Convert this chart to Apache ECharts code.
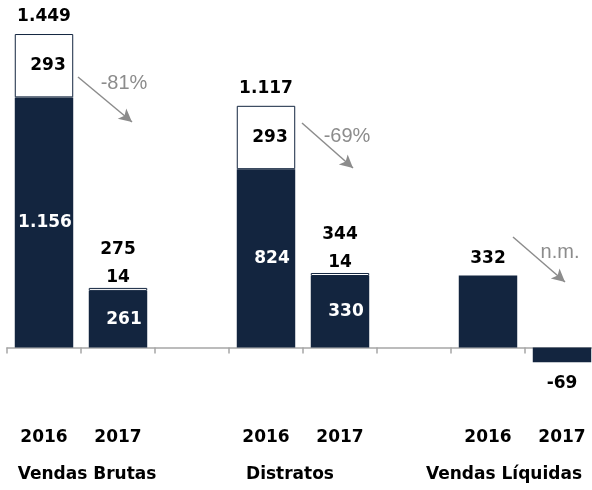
<!DOCTYPE html>
<html>
<head>
<meta charset="utf-8">
<script src="https://cdn.jsdelivr.net/npm/echarts@6/dist/echarts.min.js"></script>
<style>
  html, body { margin: 0; padding: 0; background: #fff; }
  #chart { width: 592px; height: 490px; }
</style>
</head>
<body>
<div id="chart"></div>
<script>
// dados
var years = ['2016', '2017', '', '2016', '2017', '', '2016', '2017'];
var groups = ['Vendas Brutas', 'Distratos', 'Vendas Líquidas'];
var baseValues = [1156, 261, null, 824, 330, null, 332, -69];
var topValues = [293, 14, null, 293, 14, null, null, null];
var totals = [1449, 275, null, 1117, 344, null, null, null];
var changes = ['-81%', '-69%', 'n.m.'];

var navy = '#13253f';
var grey = '#8c8c8c';
var font = 'DejaVu Sans';
var fsize = 17;

function fmt(n) {
    var s = String(Math.abs(n)).replace(/\B(?=(\d{3})+(?!\d))/g, '.');
    return (n < 0 ? '-' : '') + s;
}

var baseData = baseValues.map(function (v, i) {
    if (v == null) return '-';
    var label;
    if (v < 0) {
        label = { position: 'bottom', distance: 13, color: '#000' };
    } else if (topValues[i] == null) {
        label = { position: 'top', distance: 9, color: '#000' };
    } else {
        label = { position: 'inside', color: '#fff', offset: [v > 999 ? 1 : 6, 0] };
    }
    return { value: v, label: label };
});

var topData = topValues.map(function (v) {
    if (v == null) return '-';
    if (v < 50) return { value: v, label: { position: 'top', distance: 2, color: '#000' } };
    return { value: v, label: { position: 'inside', offset: [4, 0], color: '#000' } };
});

var totalData = totals.map(function (v, i) {
    if (v == null) return '-';
    var small = topValues[i] < 50;
    return { value: v, label: { distance: small ? 30 : 9, color: '#000' } };
});

// setas
var arrows = [
    [[78, 77], [132, 122]],
    [[302, 123], [353, 168]],
    [[513, 237], [565, 282]]
];
var arrowLabels = [[124, 83], [347, 136], [560, 252]];

var chart = echarts.init(document.getElementById('chart'));
var option = {
    animation: false,
    // a última coluna passa da borda direita
    grid: { left: 7, width: 592, top: 23, bottom: 121, outerBoundsMode: 'none', containLabel: false },
    xAxis: {
        type: 'category',
        data: years,
        axisLine: { lineStyle: { color: '#a6a6a6', width: 1.5 } },
        axisTick: { show: true, length: 6, lineStyle: { color: '#a6a6a6', width: 1.5 } },
        axisLabel: { margin: 60, fontFamily: font, fontWeight: 'bold', fontSize: fsize, color: '#000' }
    },
    yAxis: { type: 'value', min: -100, max: 1500, show: false, splitLine: { show: false } },
    series: [
        {
            type: 'bar', stack: 'a', data: baseData, barCategoryGap: '21%',
            itemStyle: { color: navy },
            label: { show: true, fontFamily: font, fontWeight: 'bold', fontSize: fsize, formatter: function (p) { return fmt(p.value); } }
        },
        {
            type: 'bar', stack: 'a', data: topData,
            itemStyle: { color: '#fff', borderColor: navy, borderWidth: 1 },
            label: { show: true, color: '#000', fontFamily: font, fontWeight: 'bold', fontSize: fsize, formatter: function (p) { return fmt(p.value); } }
        },
        {
            // totais em cima das barras
            type: 'scatter', data: totalData, symbolSize: 0,
            itemStyle: { opacity: 1 },
            label: { show: true, position: 'top', color: '#000', fontFamily: font, fontWeight: 'bold', fontSize: fsize, formatter: function (p) { return fmt(p.value); } },
            emphasis: { disabled: true },
            markLine: {
                silent: true,
                symbol: ['none', 'arrow'],
                symbolSize: [10, 13],
                lineStyle: { color: grey, width: 1.5, type: 'solid' },
                label: { show: false },
                data: arrows.map(function (a) { return [{ x: a[0][0], y: a[0][1] }, { x: a[1][0], y: a[1][1] }]; })
            }
        }
    ],
    graphic: changes.map(function (t, i) {
        return {
            type: 'text', x: arrowLabels[i][0], y: arrowLabels[i][1],
            style: { text: t, fill: grey, font: '20px "Liberation Sans"', align: 'center', verticalAlign: 'middle' }
        };
    }).concat([[87, 475], [290, 475], [504, 475]].map(function (p, i) {
        return {
            type: 'text', x: p[0], y: p[1],
            style: { text: groups[i], fill: '#000', font: 'bold ' + fsize + 'px "DejaVu Sans"', align: 'center', verticalAlign: 'middle' }
        };
    }))
};
chart.setOption(option);
</script>
</body>
</html>
